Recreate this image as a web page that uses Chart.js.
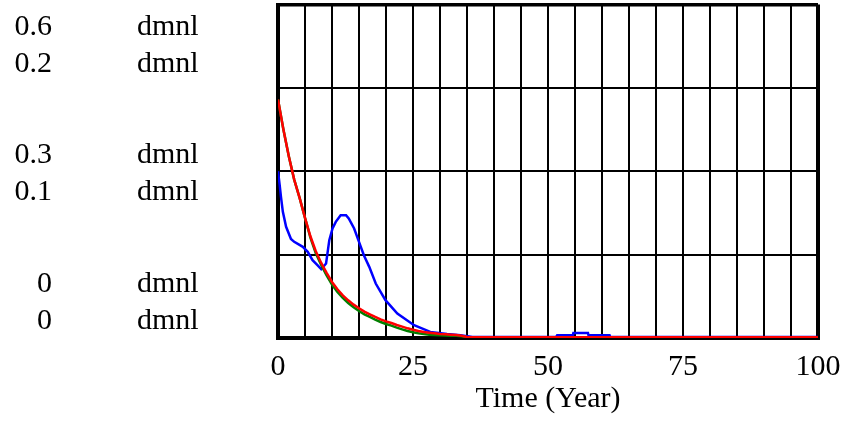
<!DOCTYPE html>
<html>
<head>
<meta charset="utf-8">
<script src="https://cdn.jsdelivr.net/npm/chart.js@4.4.1/dist/chart.umd.min.js"></script>
<style>
  html, body { margin: 0; padding: 0; background: #fff; }
  #wrap { width: 843px; height: 426px; position: relative; }
</style>
</head>
<body>
<div id="wrap"><canvas id="c" width="843" height="426"></canvas></div>
<script>
// ---- data ----
const xTicks = [0, 25, 50, 75, 100];
const scaleALabels = ['0.6', '0.3', '0'];   // blue scale
const scaleBLabels = ['0.2', '0.1', '0'];   // red / green scale
const unitLabel = 'dmnl';
const xTitle = 'Time (Year)';

const blueT = [0, 0.3, 0.55, 0.9, 1.5, 2.4, 3.0, 4.6, 5.5, 6.4, 7.3, 8.0, 8.9, 9.5, 10.1, 10.7, 11.6, 12.6, 13.1, 14.1, 15.0, 15.9, 16.9, 18.1, 19.9, 22.1, 25.2, 28.2, 31.3, 33.8, 36, 51.5, 51.7, 54.6, 54.7, 57.4, 57.5, 61.4, 61.5, 100];
const blueV = [0.300, 0.276, 0.254, 0.227, 0.200, 0.178, 0.173, 0.164, 0.155, 0.140, 0.131, 0.124, 0.134, 0.176, 0.197, 0.209, 0.221, 0.221, 0.215, 0.197, 0.173, 0.149, 0.128, 0.098, 0.068, 0.044, 0.023, 0.011, 0.007, 0.005, 0.002, 0.002, 0.005, 0.005, 0.009, 0.009, 0.005, 0.005, 0.002, 0.002];

const redT = [0, 1, 2, 3, 4, 5, 6, 7, 8, 9, 10, 11, 12, 13, 14, 15, 16, 17, 18, 19, 20, 21, 22, 23, 24, 25, 26, 27, 28, 29, 30, 31, 32, 33, 34, 35, 36, 100];
const redV = [0.143, 0.125, 0.109, 0.095, 0.084, 0.072, 0.061, 0.052, 0.045, 0.039, 0.0336, 0.0292, 0.0256, 0.0226, 0.0200, 0.0178, 0.0158, 0.0142, 0.0126, 0.0112, 0.0100, 0.0090, 0.0078, 0.0068, 0.0058, 0.0050, 0.0042, 0.0036, 0.0032, 0.0028, 0.0024, 0.0022, 0.0020, 0.0018, 0.0014, 0.0006, 0.0005, 0.0005];
const greenV = [0.143, 0.125, 0.109, 0.095, 0.084, 0.072, 0.0602, 0.0508, 0.0438, 0.0376, 0.0320, 0.0276, 0.0240, 0.0210, 0.0184, 0.0162, 0.0142, 0.0126, 0.0110, 0.0096, 0.0084, 0.0074, 0.0062, 0.0052, 0.0042, 0.0034, 0.0028, 0.0024, 0.0020, 0.0018, 0.0016, 0.0015, 0.0014, 0.0013, 0.0010, 0.0005, 0.0004, 0.0004];

const pts = (t, v) => t.map((x, i) => ({ x: x, y: v[i] }));
const FONT = '"Liberation Serif", "Times New Roman", serif';

const leftLabels = {
  id: 'leftLabels',
  afterDraw(chart) {
    const ctx = chart.ctx;
    const y = chart.scales.y;
    ctx.save();
    ctx.font = '30px ' + FONT;
    ctx.fillStyle = '#000';
    ctx.textBaseline = 'alphabetic';
    const anchors = [0.6, 0.3, 0];
    const offs = [[30.5, 67.5], [-8, 29], [-46, -9]];
    anchors.forEach((v, i) => {
      const py = y.getPixelForValue(v);
      const rows = [scaleALabels[i], scaleBLabels[i]];
      rows.forEach((txt, j) => {
        ctx.textAlign = 'right';
        ctx.fillText(txt, 52, py + offs[i][j]);
        ctx.textAlign = 'left';
        ctx.fillText(unitLabel, 137, py + offs[i][j]);
      });
    });
    ctx.restore();
  }
};

new Chart(document.getElementById('c'), {
  type: 'line',
  data: {
    datasets: [
      { data: pts(redT, redV), yAxisID: 'y2', borderColor: '#ff0000', borderWidth: 2.5, pointRadius: 0, tension: 0 },
      { data: pts(redT, greenV), yAxisID: 'y2', borderColor: '#008000', borderWidth: 2.5, pointRadius: 0, tension: 0 },
      { data: pts(blueT, blueV), yAxisID: 'y', borderColor: '#0000ff', borderWidth: 2.5, pointRadius: 0, tension: 0 }
    ]
  },
  options: {
    responsive: false,
    animation: false,
    events: [],
    layout: { padding: { top: 4.5, right: 25, left: 0, bottom: 0 } },
    plugins: { legend: { display: false }, tooltip: { enabled: false } },
    scales: {
      x: {
        type: 'linear', min: 0, max: 100,
        afterFit(s) { s.height = 88; s.paddingLeft = 0; s.paddingRight = 0; },
        afterBuildTicks(s) {
          const t = [];
          for (let v = 0; v <= 100; v += 5) t.push({ value: v });
          s.ticks = t;
        },
        ticks: {
          autoSkip: false, maxRotation: 0, padding: 11, color: '#000',
          font: { family: FONT, size: 30 },
          callback: (v) => xTicks.includes(v) ? String(v) : ''
        },
        grid: {
          color: '#000', drawTicks: false,
          lineWidth: (c) => (c.tick && (c.tick.value === 0 || c.tick.value === 100)) ? 4 : 2
        },
        border: { display: true, color: '#000', width: 4 },
        title: { display: true, text: xTitle, color: '#000', font: { family: FONT, size: 30 }, padding: { top: 0, bottom: 9 } }
      },
      y: {
        type: 'linear', min: 0, max: 0.6, position: 'left',
        afterFit(s) { s.width = 278; s.paddingTop = 0; s.paddingBottom = 0; },
        afterBuildTicks(s) {
          s.ticks = [0, 0.15, 0.3, 0.45, 0.6].map(v => ({ value: v }));
        },
        ticks: { display: false },
        grid: {
          color: '#000', drawTicks: false,
          lineWidth: (c) => (c.tick && (c.tick.value === 0.6 || c.tick.value === 0)) ? 3.5 : 2
        },
        border: { display: true, color: '#000', width: 4 }
      },
      y2: { type: 'linear', min: 0, max: 0.2, display: false }
    }
  },
  plugins: [leftLabels]
});
</script>
</body>
</html>
